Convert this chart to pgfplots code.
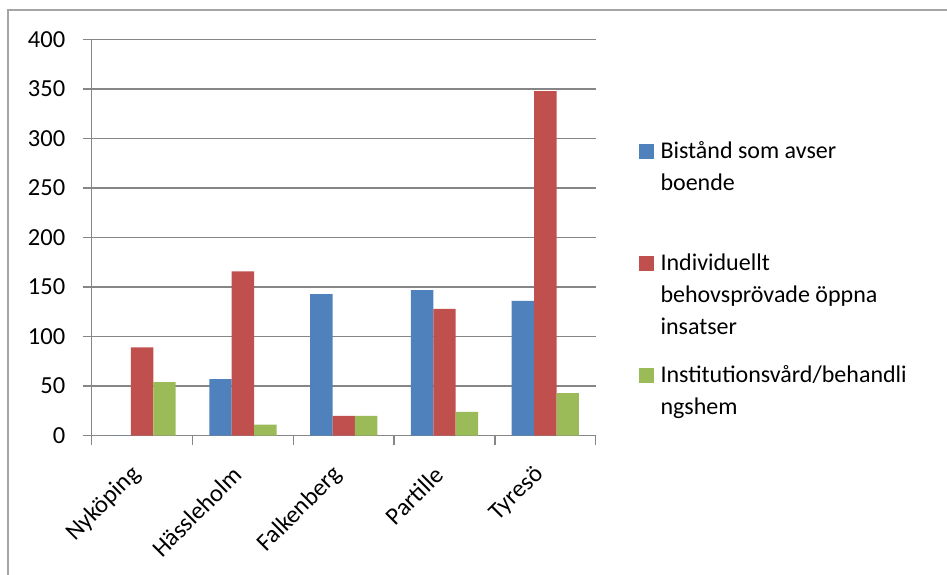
\documentclass[border=0pt]{standalone}
\usepackage{fontspec}
\setmainfont{Carlito}
\usepackage{pgfplots}
\pgfplotsset{compat=1.18}
\usepackage{pgfplotstable}

\definecolor{xlblue}{RGB}{79,129,189}
\definecolor{xlred}{RGB}{192,80,77}
\definecolor{xlgreen}{RGB}{155,187,89}
\definecolor{gridgray}{RGB}{134,134,134}
\definecolor{framegray}{RGB}{165,165,165}

% kommun index, then the three kinds of insats
\pgfplotstableread{
idx boende oppna inst
0   0      89    54
1   57     166   11
2   143    20    20
3   147    128   24
4   136    348   43
}\kommuner

\begin{document}
\begin{tikzpicture}[x=1pt,y=1pt]
\useasboundingbox (0,0) rectangle (947,-575);
\draw[framegray, line width=2pt] (8,-580) -- (8,-10) -- (952,-10);
\begin{axis}[
  at={(91,-440)}, anchor=south west,
  scale only axis, width=504pt, height=396pt,
  ybar=0pt, bar width=22.4pt,
  xmin=-0.5, xmax=4.5, ymin=0, ymax=400,
  ytick={0,50,...,400},
  xtick={-0.5,0.5,...,4.5}, xticklabels={,,,,,},
  extra x ticks={0,1,2,3,4},
  extra x tick labels={Nyköping,Hässleholm,Falkenberg,Partille,Tyresö},
  extra x tick style={grid=none, tick style={draw=none}},
  axis x line*=bottom, axis y line*=left,
  axis line style={-, gridgray, line width=1.3pt},
  tick align=outside, major tick length=9pt,
  tick style={gridgray, line width=1.3pt},
  ymajorgrids, grid style={gridgray, line width=1.3pt},
  ticklabel style={font=\fontsize{24.5}{30}\selectfont},
  /pgf/number format/assume math mode=true,
  yticklabel style={xshift=-14pt},
  xticklabel style={yshift=-24pt, xshift=-3pt, rotate=45, anchor=east},
  legend style={draw=none, fill=none, at={(1.0859,0.7492)}, anchor=north west,
    inner sep=0pt, outer sep=0pt, row sep=0pt, column sep=7pt,
    font=\fontsize{24}{32}\selectfont,
    cells={anchor=base west},
    nodes={inner sep=0pt, text height=20pt, text depth=92pt}},
]
\addplot[fill=xlblue, draw=none,
  legend image code/.code={\fill[xlblue] (0pt,0pt) rectangle (14.5pt,14.5pt);}]
  table[x=idx, y=boende] {\kommuner};
\addlegendentry{\parbox[t]{280pt}{Bistånd som avser\\boende}}
\addplot[fill=xlred, draw=none,
  legend image code/.code={\fill[xlred] (0pt,0pt) rectangle (14.5pt,14.5pt);}]
  table[x=idx, y=oppna] {\kommuner};
\addlegendentry{\parbox[t]{280pt}{Individuellt\\behovsprövade öppna\\insatser}}
\addplot[fill=xlgreen, draw=none,
  legend image code/.code={\fill[xlgreen] (0pt,0pt) rectangle (14.5pt,14.5pt);}]
  table[x=idx, y=inst] {\kommuner};
\addlegendentry{\parbox[t]{280pt}{Institutionsvård/behandli\\ngshem}}
\end{axis}
\end{tikzpicture}
\end{document}
